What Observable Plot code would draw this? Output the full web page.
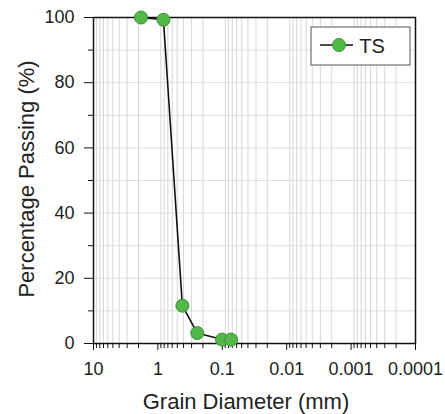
<!DOCTYPE html>
<html>
<head>
<meta charset="utf-8">
<script src="https://cdn.jsdelivr.net/npm/d3@7"></script>
<script src="https://cdn.jsdelivr.net/npm/@observablehq/plot@0.6"></script>
<style>
  html, body { margin: 0; padding: 0; background: #fff; }
  svg { font-family: "Liberation Sans", Arial, sans-serif; }
</style>
</head>
<body>
<div id="chart"></div>
<script>
// Data
const diameters = [1.83, 0.82, 0.417, 0.245, 0.101, 0.073];
const passing   = [100, 99.3, 11.6, 3.2, 1.2, 1.2];
const seriesName = "TS";

const xTicks = [10, 1, 0.1, 0.01, 0.001, 0.0001];
const xTickLabels = ["10", "1", "0.1", "0.01", "0.001", "0.0001"];
const yTicks = [0, 20, 40, 60, 80, 100];
const yMinorTicks = [10, 30, 50, 70, 90];
const yGrid = [10, 20, 30, 40, 50, 60, 70, 80, 90];

const xMinor = [];
for (const dec of [1, 0.1, 0.01, 0.001, 0.0001]) {
  for (let k = 2; k <= 9; k++) xMinor.push(dec * k);
}

const data = diameters.map((d, i) => ({d, p: passing[i]}));

const W = 445, H = 414;
const mL = 93, mR = 30, mT = 17, mB = 71;

const plot = Plot.plot({
  width: W, height: H,
  marginLeft: mL, marginRight: mR, marginTop: mT, marginBottom: mB,
  style: {fontFamily: "Liberation Sans, Arial, sans-serif", fontSize: "18px", color: "#222"},
  x: {type: "log", domain: [10, 0.0001]},
  y: {domain: [0, 100]},
  marks: [
    Plot.ruleX(xMinor, {stroke: "#cdcdcd", strokeWidth: 0.8}),
    Plot.ruleY(yGrid, {stroke: "#d6d6d6", strokeWidth: 0.8}),
    Plot.frame({stroke: "#111", strokeWidth: 1.5}),
    Plot.axisY({ticks: yTicks, tickSize: 9, tickPadding: 10, label: null, fontSize: 18, stroke: "#111"}),
    Plot.axisY({ticks: yMinorTicks, tickSize: 5, tickFormat: () => "", label: null, stroke: "#111"}),
    Plot.axisX({ticks: xTicks, tickSize: 7, tickPadding: 12, tickFormat: (d) => xTickLabels[xTicks.indexOf(d)], label: null, fontSize: 18, stroke: "#111"}),
    Plot.axisX({ticks: xMinor, tickSize: 5, tickFormat: () => "", label: null, stroke: "#111"}),
    Plot.line(data, {x: "d", y: "p", stroke: "#111", strokeWidth: 1.6}),
    Plot.dot(data, {x: "d", y: "p", r: 6.5, fill: "#52b848", stroke: "#3b8f34", strokeWidth: 1})
  ]
});

document.getElementById("chart").appendChild(plot);

const svg = d3.select(plot);
// axis titles
svg.append("text")
  .attr("x", 246).attr("y", 409)
  .attr("text-anchor", "middle").attr("font-size", 22).attr("fill", "#222")
  .text("Grain Diameter (mm)");
svg.append("text")
  .attr("transform", `translate(34,${179}) rotate(-90)`)
  .attr("text-anchor", "middle").attr("font-size", 22).attr("fill", "#222")
  .text("Percentage Passing (%)");

// legend
const lg = svg.append("g");
lg.append("rect").attr("x", 311).attr("y", 27).attr("width", 99).attr("height", 38)
  .attr("fill", "#fff").attr("stroke", "#555").attr("stroke-width", 1);
lg.append("line").attr("x1", 320).attr("x2", 353).attr("y1", 45).attr("y2", 45)
  .attr("stroke", "#111").attr("stroke-width", 1.6);
lg.append("circle").attr("cx", 339).attr("cy", 45).attr("r", 6.5)
  .attr("fill", "#52b848").attr("stroke", "#3b8f34");
lg.append("text").attr("x", 372).attr("y", 53).attr("font-size", 20).attr("fill", "#222")
  .text(seriesName);
</script>
</body>
</html>
